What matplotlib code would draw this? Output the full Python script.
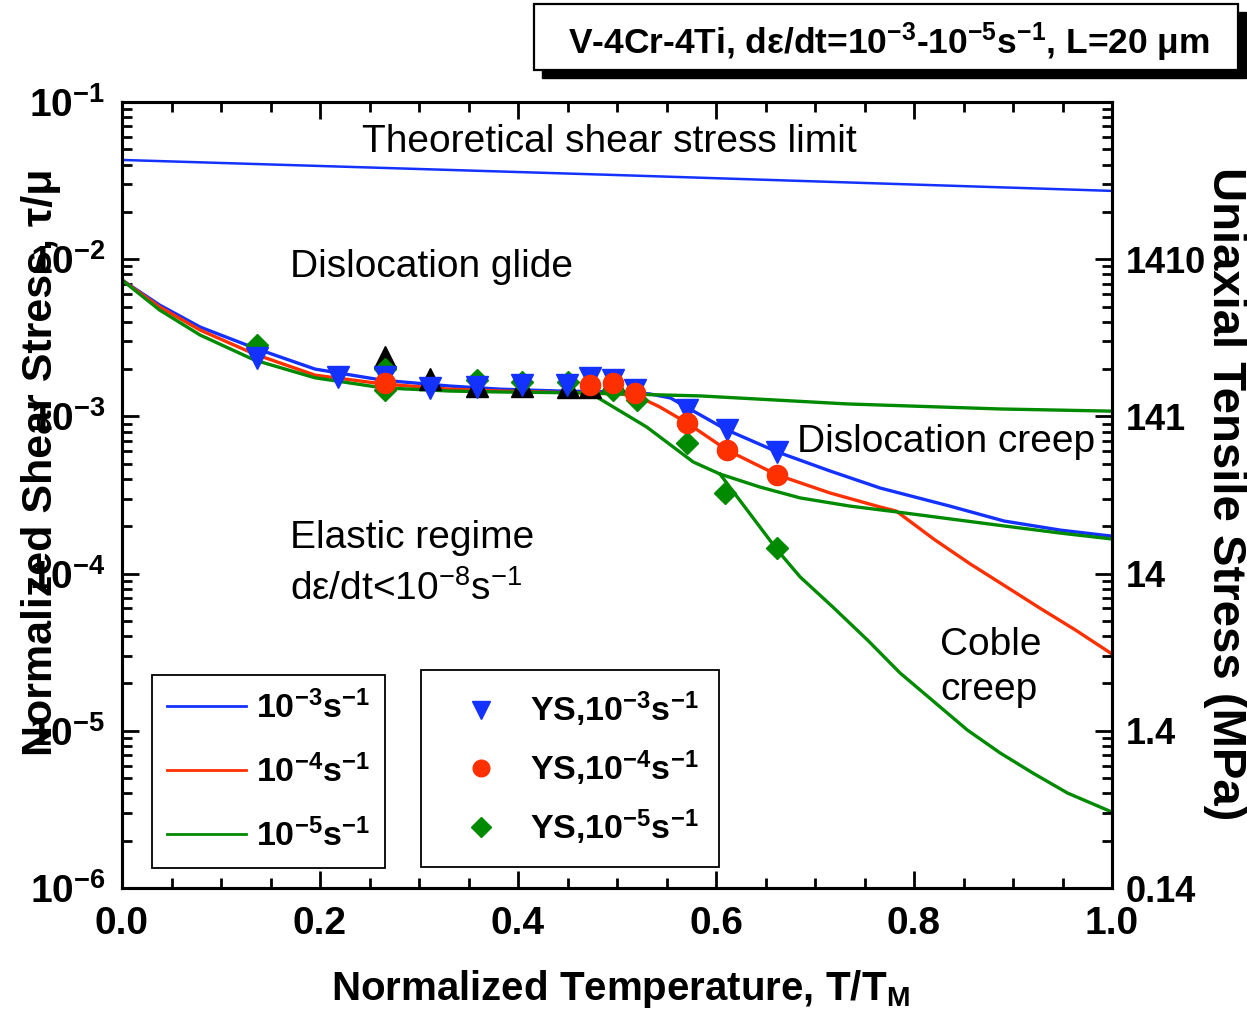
import matplotlib
matplotlib.use("Agg")
import matplotlib.pyplot as plt
from matplotlib.ticker import MultipleLocator, FixedLocator, FuncFormatter, LogLocator, NullFormatter
from matplotlib.patches import Rectangle
from matplotlib.lines import Line2D
import numpy as np

REG = "Liberation Sans"
plt.rcParams["font.family"] = [REG, "DejaVu Sans"]
plt.rcParams["mathtext.fontset"] = "custom"
plt.rcParams["mathtext.rm"] = REG
plt.rcParams["mathtext.bf"] = REG + ":bold"
plt.rcParams["mathtext.sf"] = REG + ":bold"
plt.rcParams["mathtext.it"] = REG + ":italic"

# ---------------- data ----------------
theo_T = [0.0, 0.5, 1.0]
theo_s = [0.0428, 0.0343, 0.0272]

blue_T = [0.0, 0.038, 0.079, 0.134, 0.195, 0.263, 0.331, 0.382, 0.442, 0.503, 0.533,
          0.554, 0.574, 0.611, 0.662, 0.715, 0.766, 0.836, 0.891, 0.948, 1.0]
blue_s = [7.37e-3, 5.11e-3, 3.70e-3, 2.72e-3, 2.00e-3, 1.70e-3, 1.56e-3, 1.49e-3, 1.45e-3,
          1.43e-3, 1.39e-3, 1.31e-3, 1.11e-3, 8.20e-4, 5.94e-4, 4.50e-4, 3.50e-4, 2.69e-4,
          2.16e-4, 1.89e-4, 1.73e-4]

red_T = [0.0, 0.038, 0.079, 0.134, 0.195, 0.263, 0.331, 0.382, 0.466, 0.503, 0.520, 0.543,
         0.571, 0.611, 0.662, 0.715, 0.766, 0.782, 0.821, 0.857, 0.892, 0.927, 0.963, 1.0]
red_s = [7.37e-3, 4.97e-3, 3.54e-3, 2.49e-3, 1.83e-3, 1.61e-3, 1.49e-3, 1.45e-3, 1.41e-3,
         1.39e-3, 1.35e-3, 1.15e-3, 9.08e-4, 6.11e-4, 4.24e-4, 3.26e-4, 2.65e-4, 2.50e-4,
         1.64e-4, 1.15e-4, 8.34e-5, 6.04e-5, 4.38e-5, 3.08e-5]

green_glide_T = [0.0, 0.038, 0.079, 0.134, 0.195, 0.263, 0.331, 0.382, 0.466, 0.584, 0.733, 0.887, 1.0]
green_glide_s = [7.37e-3, 4.75e-3, 3.29e-3, 2.28e-3, 1.76e-3, 1.52e-3, 1.45e-3, 1.43e-3,
                 1.41e-3, 1.35e-3, 1.20e-3, 1.115e-3, 1.08e-3]

green_creep_T = [0.476, 0.530, 0.577, 0.604, 0.644, 0.685, 0.735, 0.782, 0.836, 0.891, 0.948, 1.0]
green_creep_s = [1.37e-3, 8.56e-4, 5.13e-4, 4.30e-4, 3.56e-4, 3.03e-4, 2.69e-4, 2.47e-4,
                 2.23e-4, 2.01e-4, 1.81e-4, 1.66e-4]

green_coble_T = [0.604, 0.662, 0.685, 0.718, 0.753, 0.786, 0.854, 0.887, 0.920, 0.955, 1.0]
green_coble_s = [4.30e-4, 1.41e-4, 9.52e-5, 6.13e-5, 3.78e-5, 2.33e-5, 1.01e-5, 7.23e-6,
                 5.39e-6, 4.02e-6, 3.04e-6]

blue_ys_T = [0.136, 0.218, 0.266, 0.311, 0.359, 0.404, 0.449, 0.473, 0.496, 0.518, 0.571, 0.611, 0.662]
blue_ys_s = [2.35e-3, 1.78e-3, 1.78e-3, 1.52e-3, 1.54e-3, 1.58e-3, 1.58e-3, 1.76e-3, 1.70e-3,
             1.47e-3, 1.10e-3, 8.20e-4, 5.94e-4]

red_ys_T = [0.266, 0.473, 0.496, 0.518, 0.571, 0.611, 0.662]
red_ys_s = [1.63e-3, 1.58e-3, 1.63e-3, 1.41e-3, 9.08e-4, 6.11e-4, 4.24e-4]

green_ys_T = [0.136, 0.266, 0.266, 0.359, 0.404, 0.450, 0.496, 0.520, 0.571, 0.609, 0.662]
green_ys_s = [2.85e-3, 2.00e-3, 1.47e-3, 1.70e-3, 1.65e-3, 1.65e-3, 1.47e-3, 1.27e-3,
              6.77e-4, 3.26e-4, 1.46e-4]

black_T = [0.266, 0.311, 0.359, 0.404, 0.450, 0.473, 0.496]
black_s = [2.39e-3, 1.72e-3, 1.56e-3, 1.56e-3, 1.54e-3, 1.54e-3, 1.70e-3]

left_ticks = [1e-6, 1e-5, 1e-4, 1e-3, 1e-2, 1e-1]
right_labels = ["0.14", "1.4", "14", "141", "1410", ""]
x_ticks = [0.0, 0.2, 0.4, 0.6, 0.8, 1.0]

BLUE = "#1432ff"
RED = "#ff3000"
GREEN = "#008a00"

# ---------------- figure ----------------
W, H = 1247, 1019
fig = plt.figure(figsize=(W / 100, H / 100), dpi=100)
ax = fig.add_axes([122 / W, 1 - 888 / H, 990 / W, 786 / H])
ax.set_yscale("log")
ax.set_xlim(0, 1)
ax.set_ylim(1e-6, 1e-1)

lw = 2.4
ax.plot(theo_T, theo_s, color=BLUE, lw=1.8, zorder=2)
ax.plot(blue_T, blue_s, color=BLUE, lw=lw, zorder=2)
ax.plot(red_T, red_s, color=RED, lw=lw, zorder=2.1)
ax.plot(green_glide_T, green_glide_s, color=GREEN, lw=lw, zorder=2.2)
ax.plot(green_creep_T, green_creep_s, color=GREEN, lw=lw, zorder=2.2)
ax.plot(green_coble_T, green_coble_s, color=GREEN, lw=lw, zorder=2.2)

ax.plot(black_T, black_s, ls="none", marker="^", ms=16, color="black", mec="black", zorder=3)
ax.plot(green_ys_T, green_ys_s, ls="none", marker="D", ms=11.5, color=GREEN, mec=GREEN, zorder=3.1)
ax.plot(blue_ys_T, blue_ys_s, ls="none", marker="v", ms=16, color=BLUE, mec=BLUE, zorder=3.2)
ax.plot(red_ys_T, red_ys_s, ls="none", marker="o", ms=14.5, color=RED, mec=RED, zorder=3.3)

# axes styling
for sp in ax.spines.values():
    sp.set_linewidth(2.2)
ax.xaxis.set_major_locator(FixedLocator(x_ticks))
ax.xaxis.set_minor_locator(MultipleLocator(0.05))
ax.xaxis.set_major_formatter(FuncFormatter(lambda v, p: "%.1f" % v))
ax.yaxis.set_major_locator(FixedLocator(left_ticks))
ax.yaxis.set_minor_locator(LogLocator(base=10, subs=np.arange(2, 10), numticks=20))
ax.yaxis.set_minor_formatter(NullFormatter())
ax.yaxis.set_major_formatter(FuncFormatter(lambda v, p: r"$\mathbf{10^{%d}}$" % int(round(np.log10(v)))))
ax.tick_params(which="both", direction="in", top=True, right=False, width=2)
ax.tick_params(which="major", length=12)
ax.tick_params(which="minor", length=7)
ax.tick_params(axis="x", which="major", pad=13, labelsize=28)
ax.tick_params(axis="y", which="major", pad=12, labelsize=28)
for lab in ax.get_xticklabels():
    lab.set_fontweight("bold")

ax2 = ax.twinx()
ax2.set_yscale("log")
ax2.set_ylim(1e-6, 1e-1)
ax2.yaxis.set_major_locator(FixedLocator(left_ticks))
ax2.yaxis.set_major_formatter(FuncFormatter(lambda v, p: right_labels[int(round(np.log10(v))) + 6]))
ax2.yaxis.set_minor_locator(LogLocator(base=10, subs=np.arange(2, 10), numticks=20))
ax2.yaxis.set_minor_formatter(NullFormatter())
ax2.tick_params(which="both", direction="in", width=2)
ax2.tick_params(which="major", length=12, pad=10, labelsize=26)
ax2.tick_params(which="minor", length=7)
for lab in ax2.get_yticklabels():
    lab.set_fontweight("bold")
for sp in ax2.spines.values():
    sp.set_linewidth(2.2)

# axis labels
fig.text(620 / W, 1 - 1000 / H, r"Normalized Temperature, T/T$\mathbf{_M}$", ha="center",
         va="baseline", fontsize=29, fontweight="bold")
fig.text(41 / W, 1 - 462 / H, "Normalized Shear Stress, τ/μ", rotation=90, ha="center",
         va="center", fontsize=31, fontweight="bold")
fig.text(1225 / W, 1 - 494 / H, "Uniaxial Tensile Stress (MPa)", rotation=270, ha="center",
         va="center", fontsize=34, fontweight="bold")

# region annotations (axes fraction)
def axpos(px, py):
    return ((px - 122) / 990, (888 - py) / 786)

ann = dict(fontsize=28, va="baseline", ha="left", transform=ax.transAxes, zorder=5)
ax.text(*axpos(362, 152), "Theoretical shear stress limit", **ann)
ax.text(*axpos(290, 277), "Dislocation glide", **ann)
ax.text(*axpos(797, 452), "Dislocation creep", **ann)
ax.text(*axpos(290, 548), "Elastic regime", **ann)
ax.text(*axpos(290, 600), r"dε/dt<10$^{-8}$s$^{-1}$", **ann)
ax.text(*axpos(940, 655), "Coble", **ann)
ax.text(*axpos(940, 700), "creep", **ann)

# legends
LFS = 24.5
legkw = dict(loc="lower left", frameon=True, fancybox=False, edgecolor="black", framealpha=1,
             handlelength=2.3, handletextpad=0.3, borderaxespad=0,
             prop={"family": REG, "weight": "bold", "size": LFS})
h1 = [Line2D([], [], color=c, lw=2.0) for c in (BLUE, RED, GREEN)]
l1 = [r"$\mathbf{10^{-3}s^{-1}}$", r"$\mathbf{10^{-4}s^{-1}}$", r"$\mathbf{10^{-5}s^{-1}}$"]
leg1 = ax.legend(h1, l1, bbox_to_anchor=axpos(152, 868), borderpad=0.45, labelspacing=0.86,
                 **legkw)
leg1.get_frame().set_linewidth(1.3)
ax.add_artist(leg1)

h2 = [Line2D([], [], ls="none", marker="v", ms=13, color=BLUE),
      Line2D([], [], ls="none", marker="o", ms=12, color=RED),
      Line2D([], [], ls="none", marker="D", ms=10, color=GREEN)]
l2 = [r"YS,$\mathbf{10^{-3}s^{-1}}$", r"YS,$\mathbf{10^{-4}s^{-1}}$", r"YS,$\mathbf{10^{-5}s^{-1}}$"]
leg2 = ax.legend(h2, l2, bbox_to_anchor=axpos(421, 867), numpoints=1, borderpad=0.6,
                 labelspacing=0.56, **legkw)
leg2.get_frame().set_linewidth(1.3)
for lg in (leg1, leg2):
    lg.set_zorder(6)

# title box with shadow
fig.patches.append(Rectangle((542 / W, 1 - 78 / H), 704 / W, 66 / H, transform=fig.transFigure,
                             facecolor="black", edgecolor="black", zorder=1))
fig.patches.append(Rectangle((534 / W, 1 - 70 / H), 704 / W, 66 / H, transform=fig.transFigure,
                             facecolor="white", edgecolor="black", lw=1.6, zorder=2))
fig.text(889 / W, 1 - 54 / H,
         r"V-4Cr-4Ti, dε/dt=$\mathbf{10^{-3}}$-$\mathbf{10^{-5}s^{-1}}$, L=20 μm",
         ha="center", va="baseline", fontsize=25.5, fontweight="bold", zorder=3)

fig.savefig("out.png", dpi=100)
